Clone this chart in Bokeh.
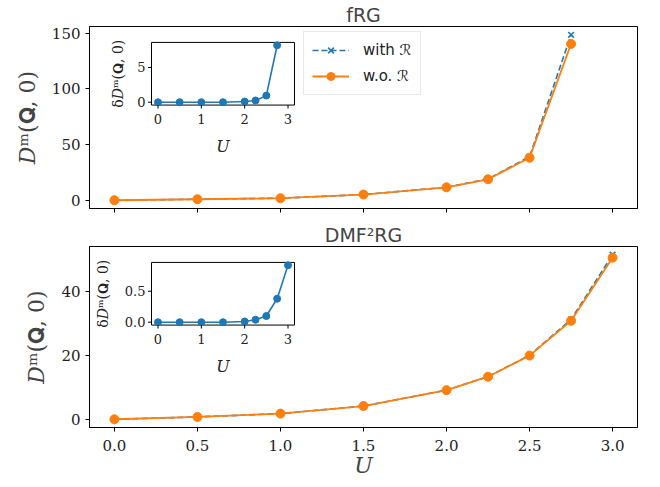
import math

from bokeh.embed import file_html
from bokeh.layouts import column
from bokeh.models import (CustomLabelingPolicy, FixedTicker, Legend,
                          LegendItem, Range1d)
from bokeh.plotting import figure
from bokeh.resources import INLINE

# ---------------------------------------------------------------- data
# fRG: magnetic D^m(Q,0) with and without the R term, and their difference
U_frg = [0.0, 0.5, 1.0, 1.5, 2.0, 2.25, 2.5, 2.75]
D_frg_with = [0.0, 0.9, 1.8, 5.1, 11.7, 19.05, 39.15, 148.6]
D_frg_wo = [0.0, 0.9, 1.8, 5.1, 11.6, 18.8, 38.2, 140.4]
dD_frg = [0.0, 0.0, 0.0, 0.0, 0.1, 0.25, 0.95, 8.2]

# DMF^2RG
U_dmf = [0.0, 0.5, 1.0, 1.5, 2.0, 2.25, 2.5, 2.75, 3.0]
D_dmf_with = [0.0, 0.73, 1.77, 4.14, 9.11, 13.34, 20.0, 31.18, 51.42]
D_dmf_wo = [0.0, 0.73, 1.77, 4.14, 9.1, 13.3, 19.9, 30.8, 50.5]
dD_dmf = [0.0, 0.0, 0.0, 0.0, 0.012, 0.04, 0.1, 0.38, 0.92]

# ticks
main_xticks = [0.0, 0.5, 1.0, 1.5, 2.0, 2.5, 3.0]
main_xtick_labels = ["0.0", "0.5", "1.0", "1.5", "2.0", "2.5", "3.0"]
frg_yticks = [0, 50, 100, 150]
dmf_yticks = [0, 20, 40]
inset_xticks = [0, 1, 2, 3]
inset_xtick_labels = ["0", "1", "2", "3"]
frg_inset_yticks = [0, 5]
frg_inset_ytick_labels = ["0", "5"]
dmf_inset_yticks = [0.0, 0.5]
dmf_inset_ytick_labels = ["0.0", "0.5"]

# ---------------------------------------------------------------- style
BLUE = "#1f77b4"
ORANGE = "#ff7f0e"
SERIF = "DejaVu Serif"
SANS = "DejaVu Sans"
W = 660
FRAME_L, FRAME_R = 89, 637
X_LO, X_HI = -0.15, 3.15
# inset frame, in pixels from the main frame's top-left corner
IN_L, IN_R, IN_T, IN_B = 62, 205, 16, 79

# shared x axis: the upper panel keeps its tick marks but shows no labels
NO_LABELS = CustomLabelingPolicy(code="""
for (const i of indices)
  indices.unset(i)
""")


def padded(vals):
    lo, hi = min(vals), max(vals)
    span = hi - lo
    return lo - 0.05 * span, hi + 0.05 * span


def panel(title, height, top, bottom, U, d_with, d_wo, dD, yticks,
          iyticks, iylabels, ylabel_off, show_xlabels, with_legend):
    fh = bottom - top
    fw = FRAME_R - FRAME_L
    ylo, yhi = padded(d_with + d_wo)
    p = figure(width=W, height=height, output_backend="svg",
               toolbar_location=None, x_range=Range1d(X_LO, X_HI),
               y_range=Range1d(ylo, yhi),
               min_border_left=FRAME_L, min_border_right=W - FRAME_R,
               min_border_top=top, min_border_bottom=height - bottom)
    p.title.text = title
    p.title.align = "center"
    p.title.text_font = SANS
    p.title.text_font_size = "19px"
    p.title.text_font_style = "normal"
    p.title.standoff = 2
    p.grid.visible = False
    p.outline_line_color = "black"
    p.outline_line_alpha = 1
    p.background_fill_color = "white"
    p.border_fill_color = "white"

    for ax in (p.xaxis[0], p.yaxis[0]):
        ax.axis_line_color = "black"
        ax.major_tick_line_color = "black"
        ax.major_tick_out = 4
        ax.major_tick_in = 0
        ax.minor_tick_line_color = None
        ax.major_label_text_font = SERIF
        ax.major_label_text_font_size = "15px"
        ax.major_label_text_color = "#222222"
    p.xaxis.ticker = FixedTicker(ticks=main_xticks)
    p.xaxis.major_label_overrides = dict(zip(main_xticks, main_xtick_labels))
    if show_xlabels:
        p.xaxis.major_label_standoff = 8
        p.xaxis.axis_label = "U"
        p.xaxis.axis_label_text_font = SERIF
        p.xaxis.axis_label_text_font_style = "italic"
        p.xaxis.axis_label_text_font_size = "22px"
        p.xaxis.axis_label_standoff = -1
    else:
        p.xaxis.major_label_policy = NO_LABELS
        p.xaxis.major_label_text_font_size = "2px"
        p.xaxis.major_label_standoff = 0
    p.yaxis.ticker = FixedTicker(ticks=yticks)
    p.yaxis.axis_label = "𝐷ᵐ(𝐐, 0)"
    p.yaxis.axis_label_text_font = SERIF
    p.yaxis.axis_label_text_font_style = "normal"
    p.yaxis.axis_label_text_font_size = "22px"
    p.yaxis.axis_label_standoff = 9

    # main curves
    l1 = p.line(U, d_with, line_color=BLUE, line_width=1.6, line_dash="6 3")
    s1 = p.scatter(U, d_with, marker="x", size=8, line_color=BLUE,
                   line_width=1.6)
    l2 = p.line(U, d_wo, line_color=ORANGE, line_width=1.8)
    s2 = p.scatter(U, d_wo, marker="circle", size=9, fill_color=ORANGE,
                   line_color=ORANGE)

    if with_legend:
        leg = Legend(items=[LegendItem(label="with ℛ", renderers=[l1, s1]),
                            LegendItem(label="w.o. ℛ", renderers=[l2, s2])],
                     location=(214, fh - 10 - 60), orientation="vertical",
                     label_text_font=SANS, label_text_font_size="15px",
                     label_text_color="#222222",
                     glyph_width=37, glyph_height=20, label_standoff=14,
                     padding=8, spacing=6, margin=0,
                     border_line_color="#d0d0d0", border_line_width=1,
                     background_fill_alpha=0.9)
        p.add_layout(leg)

    # inset: its own ranges mapped onto a small box inside the frame
    ix0, ix1 = X_LO, X_HI
    iy0, iy1 = padded(dD)
    upx = (ix1 - ix0) / (IN_R - IN_L)
    upy = (iy1 - iy0) / (IN_B - IN_T)
    p.extra_x_ranges = {"ix": Range1d(ix0 - IN_L * upx,
                                      ix1 + (fw - IN_R) * upx)}
    p.extra_y_ranges = {"iy": Range1d(iy0 - (fh - IN_B) * upy,
                                      iy1 + IN_T * upy)}
    kw = dict(x_range_name="ix", y_range_name="iy")

    p.quad(left=[ix0], right=[ix1], bottom=[iy0], top=[iy1],
           fill_color="white", line_color="black", line_width=1, **kw)
    p.line(U, dD, line_color=BLUE, line_width=1.6, **kw)
    p.scatter(U, dD, marker="circle", size=7, fill_color=BLUE,
              line_color=BLUE, **kw)

    nx = len(inset_xticks)
    p.segment(x0=inset_xticks, y0=[iy0] * nx, x1=inset_xticks,
              y1=[iy0 - 3.5 * upy] * nx, line_color="black", line_width=1,
              **kw)
    p.text(x=inset_xticks, y=[iy0] * nx, text=inset_xtick_labels,
           y_offset=9, text_align="center", text_baseline="top",
           text_font=dict(value=SERIF), text_font_size="13px",
           text_color="#222222", **kw)
    ny = len(iyticks)
    p.segment(x0=[ix0] * ny, y0=iyticks, x1=[ix0 - 3.5 * upx] * ny,
              y1=iyticks, line_color="black", line_width=1, **kw)
    p.text(x=[ix0] * ny, y=iyticks, text=iylabels, x_offset=-6,
           text_align="right", text_baseline="middle",
           text_font=dict(value=SERIF), text_font_size="13px",
           text_color="#222222", **kw)
    p.text(x=[(ix0 + ix1) / 2], y=[iy0], text=["U"], y_offset=41,
           text_align="center", text_baseline="middle",
           text_font=dict(value=SERIF), text_font_style="italic",
           text_font_size="16px", text_color="#222222", **kw)
    p.text(x=[ix0], y=[(iy0 + iy1) / 2], text=["δ𝐷ᵐ(𝐐, 0)"],
           x_offset=-ylabel_off, angle=math.pi / 2, text_align="center",
           text_baseline="middle", text_font=dict(value=SERIF),
           text_font_size="14px", text_color="#222222", **kw)
    return p


p_top = panel("fRG", 220, 25, 208, U_frg, D_frg_with, D_frg_wo, dD_frg,
              frg_yticks, frg_inset_yticks, frg_inset_ytick_labels, 34,
              False, True)
p_bot = panel("DMF²RG", 267, 25, 207, U_dmf, D_dmf_with, D_dmf_wo,
              dD_dmf, dmf_yticks, dmf_inset_yticks, dmf_inset_ytick_labels,
              49, True, False)

layout = column(p_top, p_bot, spacing=0)
open("out.html", "w").write(file_html(layout, INLINE))
